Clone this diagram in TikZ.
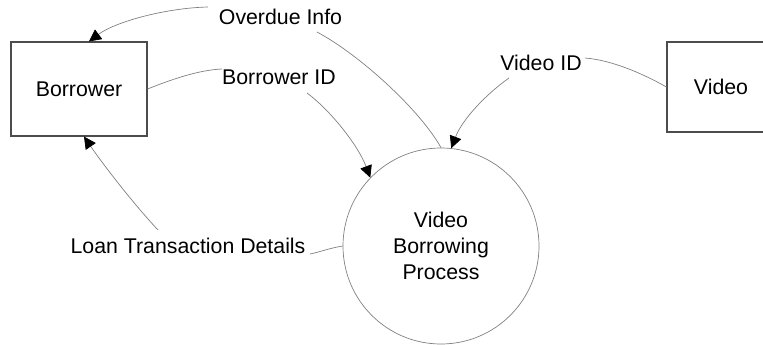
\documentclass[tikz,border=0pt]{standalone}
\usepackage{fontspec}
\setmainfont{Liberation Sans}
\usetikzlibrary{arrows.meta}
\begin{document}
\begin{tikzpicture}[x=1pt,y=-1pt,
  every node/.style={font=\fontsize{21.3}{26}\selectfont, inner sep=0pt},
  entity/.style={draw=black!70, line width=1.1pt, minimum width=136pt, minimum height=94pt},
  process/.style={draw=black!50, line width=0.7pt, circle, minimum size=196pt, align=center},
  flow/.style={draw=black!50, line width=0.7pt},
  flowarrow/.style={flow, -{Triangle[length=12pt,width=12pt,color=black]}}
]
\useasboundingbox (0,0) rectangle (763,345);
\node[entity] (borrower) at (79,89) {Borrower};
\node[entity, minimum width=108pt, minimum height=90pt] (video) at (721,87) {Video};
\node[process] (proc) at (441,246) {Video\\Borrowing\\Process};
\node (ovd) at (280.5,16.5) {Overdue Info};
\node (bid) at (279,77.5) {Borrower ID};
\node (vid) at (541,63) {Video ID};
\node (loan) at (188,246) {Loan Transaction Details};
% Overdue Info
\draw[flow] (proc.north) .. controls (420,110) and (360,55) .. ([shift={(36.5,15.5)}]ovd.center);
\draw[flowarrow] ([shift={(-72.5,-9.5)}]ovd.center) .. controls (165,8) and (115,22) .. ([xshift=10pt]borrower.north);
% Borrower ID
\draw[flow] (borrower.east) .. controls (175,78) and (200,70) .. ([shift={(-57,-8.5)}]bid.center);
\draw[flowarrow] ([shift={(28,15.5)}]bid.center) .. controls (330,110) and (358,145) .. (proc.136);
% Video ID
\draw[flow] (video.west) .. controls (640,72) and (610,60) .. ([shift={(44,-5)}]vid.center);
\draw[flowarrow] ([shift={(-32,15)}]vid.center) .. controls (485,95) and (462,120) .. (proc.84);
% Loan Transaction Details
\draw[flow] (proc.west) .. controls (330,248) and (320,252) .. ([shift={(122,8)}]loan.center);
\draw[flowarrow] ([shift={(-30,-16)}]loan.center) .. controls (130,200) and (100,160) .. ([xshift=5pt]borrower.south);
\end{tikzpicture}
\end{document}
